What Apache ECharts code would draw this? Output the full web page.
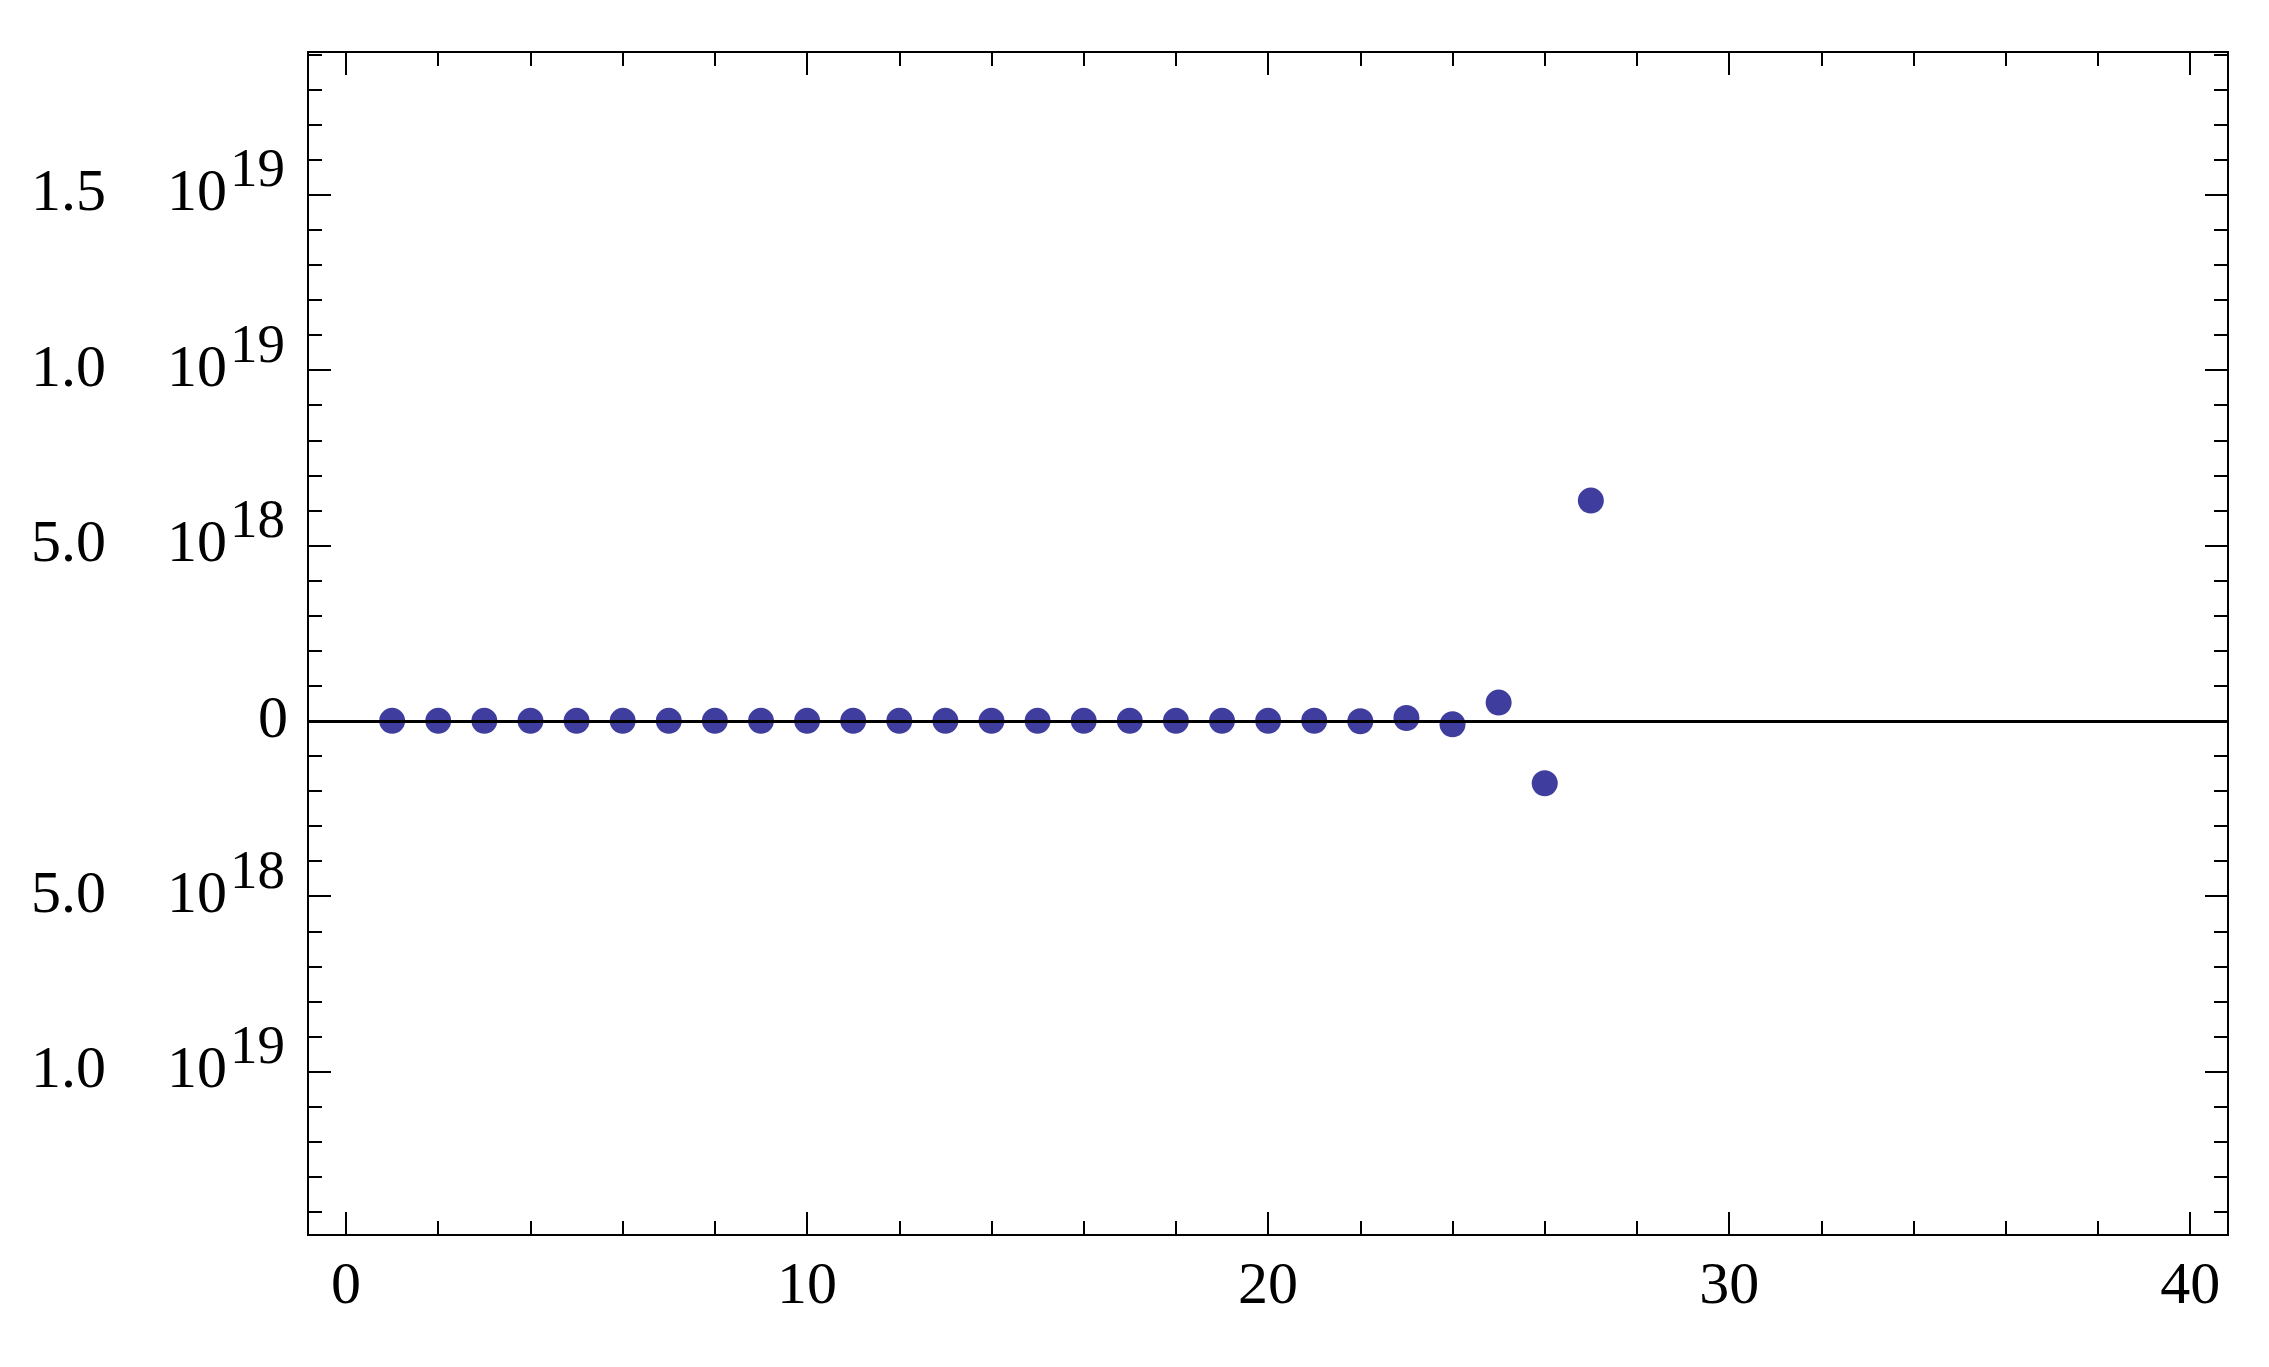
<!DOCTYPE html>
<html>
<head>
<meta charset="utf-8">
<script src="https://cdn.jsdelivr.net/npm/echarts@6/dist/echarts.min.js"></script>
<style>
  html, body { margin: 0; padding: 0; background: #fff; }
  #chart { width: 2269px; height: 1367px; }
</style>
</head>
<body>
<div id="chart"></div>
<script>
// data
const xValues = [1, 2, 3, 4, 5, 6, 7, 8, 9, 10, 11, 12, 13, 14, 15, 16, 17, 18, 19, 20, 21, 22, 23, 24, 25, 26, 27]
const yValues = [0, 0, 0, 0, 0, 0, 0, 0, 0, 0, 0, 0, 0, 0, 0, 0, 0, 0, 0, 0,
    4e15, -1.2e16, 8e16, -1e17, 5.2e17, -1.78e18, 6.28e18]

// ticks
const xMajorTicks = [0, 10, 20, 30, 40]
const xMinorTicks = [2, 4, 6, 8, 12, 14, 16, 18, 22, 24, 26, 28, 32, 34, 36, 38]
const yMajorTicks = [-1e19, -5e18, 0, 5e18, 1e19, 1.5e19]
const yMinorTicks = [-14e18, -13e18, -12e18, -11e18, -9e18, -8e18, -7e18, -6e18,
    -4e18, -3e18, -2e18, -1e18, 1e18, 2e18, 3e18, 4e18, 6e18, 7e18, 8e18, 9e18,
    11e18, 12e18, 13e18, 14e18, 16e18, 17e18, 18e18, 19e18]
// labels as printed (the minus signs and times signs are lost in the original)
const yTickMantissas = ['1.0', '5.0', '0', '5.0', '1.0', '1.5']
const yTickExponents = ['19', '18', '', '18', '19', '19']

const X_RANGE = [-0.825, 40.82]
const Y_RANGE = [-1.466e19, 1.907e19]

const FONT = '"Liberation Serif", "Times New Roman", serif'
const MAJOR_LEN = 23
const MINOR_LEN = 14

const chart = echarts.init(document.getElementById('chart'))

const frameLine = { show: true, onZero: false, lineStyle: { color: '#000', width: 2 } }

function xAxisDef(position, ticks, len, withLabels) {
    return {
        type: 'value',
        position: position,
        min: X_RANGE[0],
        max: X_RANGE[1],
        axisLine: frameLine,
        splitLine: { show: false },
        axisTick: {
            show: true, inside: true, length: len, customValues: ticks,
            lineStyle: { color: '#000', width: 2 }
        },
        axisLabel: withLabels ? {
            show: true,
            customValues: ticks,
            margin: 22,
            hideOverlap: false,
            color: '#000',
            fontFamily: FONT,
            fontSize: 60
        } : { show: false }
    }
}

function yAxisDef(position, ticks, len, withLabels) {
    return {
        type: 'value',
        position: position,
        min: Y_RANGE[0],
        max: Y_RANGE[1],
        axisLine: frameLine,
        splitLine: { show: false },
        axisTick: {
            show: true, inside: true, length: len, customValues: ticks,
            lineStyle: { color: '#000', width: 2 }
        },
        axisLabel: withLabels ? {
            show: true,
            customValues: ticks,
            margin: 20,
            hideOverlap: false,
            color: '#000',
            fontFamily: FONT,
            fontSize: 60,
            formatter: (value) => {
                const i = yMajorTicks.findIndex(t => Math.abs(t - value) < 1e15)
                if (i < 0) return ''
                if (!yTickExponents[i]) return '{z|' + yTickMantissas[i] + '}'
                return '{m|' + yTickMantissas[i] + '}{b|10}{s|' + yTickExponents[i] + '}'
            },
            rich: {
                z: { fontFamily: FONT, fontSize: 60, color: '#000' },
                m: { fontFamily: FONT, fontSize: 60, color: '#000', padding: [0, 61, 0, 0] },
                b: { fontFamily: FONT, fontSize: 60, color: '#000' },
                s: { fontFamily: FONT, fontSize: 55, color: '#000', padding: [0, 3, 46, 3] }
            }
        } : { show: false }
    }
}

chart.setOption({
    animation: false,
    backgroundColor: '#fff',
    grid: {
        left: 308,
        right: 41,
        top: 52,
        bottom: 132,
        containLabel: false,
        outerBoundsMode: 'none'
    },
    xAxis: [
        xAxisDef('bottom', xMajorTicks, MAJOR_LEN, true),
        xAxisDef('bottom', xMinorTicks, MINOR_LEN, false),
        xAxisDef('top', xMajorTicks, MAJOR_LEN, false),
        xAxisDef('top', xMinorTicks, MINOR_LEN, false)
    ],
    yAxis: [
        yAxisDef('left', yMajorTicks, MAJOR_LEN, true),
        yAxisDef('left', yMinorTicks, MINOR_LEN, false),
        yAxisDef('right', yMajorTicks, MAJOR_LEN, false),
        yAxisDef('right', yMinorTicks, MINOR_LEN, false)
    ],
    series: [{
        type: 'scatter',
        xAxisIndex: 0,
        yAxisIndex: 0,
        data: xValues.map((x, i) => [x, yValues[i]]),
        symbol: 'circle',
        symbolSize: 26,
        itemStyle: { color: '#3f3d9d', opacity: 1 },
        markLine: {
            silent: true,
            symbol: 'none',
            label: { show: false },
            lineStyle: { color: '#000', width: 3, type: 'solid' },
            data: [{ yAxis: 0 }]
        }
    }]
})
</script>
</body>
</html>
